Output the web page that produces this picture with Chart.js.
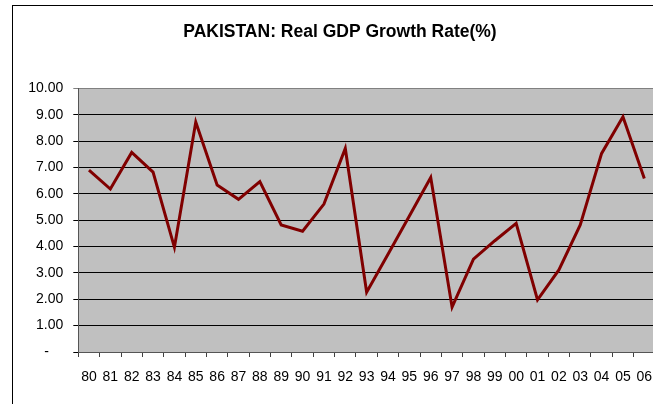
<!DOCTYPE html>
<html>
<head>
<meta charset="utf-8">
<script src="https://cdn.jsdelivr.net/npm/chart.js@4/dist/chart.umd.min.js"></script>
<style>
  html, body { margin: 0; padding: 0; background: #fff; overflow: hidden; width: 653px; height: 404px; }
  #frame { position: absolute; left: 12px; top: 5px; width: 700px; height: 430px; border: 1px solid #000; box-sizing: border-box; }
  #wrap { position: absolute; left: 25px; top: 0; width: 640px; height: 404px; }
</style>
</head>
<body>
<div id="frame"></div>
<div id="wrap"><canvas id="c" width="640" height="404"></canvas></div>
<script>
const TITLE = 'PAKISTAN: Real GDP Growth Rate(%)';
const years = ['80','81','82','83','84','85','86','87','88','89','90','91','92','93','94','95','96','97','98','99','00','01','02','03','04','05','06'];
const growth = [6.90, 6.18, 7.57, 6.82, 3.97, 8.72, 6.33, 5.79, 6.46, 4.82, 4.58, 5.61, 7.72, 2.27, 3.71, 5.16, 6.62, 1.70, 3.52, 4.22, 4.88, 1.98, 3.11, 4.82, 7.53, 8.92, 6.58];
const yTicks = [0, 1, 2, 3, 4, 5, 6, 7, 8, 9, 10];

const plotBg = {
  id: 'plotBg',
  beforeDraw(chart) {
    const a = chart.chartArea, ctx = chart.ctx;
    ctx.save();
    ctx.fillStyle = '#C0C0C0';
    ctx.fillRect(a.left, a.top, a.right - a.left, a.bottom - a.top);
    ctx.restore();
  }
};

new Chart(document.getElementById('c'), {
  type: 'line',
  data: {
    labels: years,
    datasets: [{
      data: growth,
      borderColor: '#800000',
      borderWidth: 3,
      pointRadius: 0,
      tension: 0,
      fill: false
    }]
  },
  options: {
    responsive: false,
    animation: false,
    events: [],
    layout: { padding: { left: 0, top: 0, bottom: 0, right: 10 } },
    plugins: {
      legend: { display: false },
      tooltip: { enabled: false },
      title: {
        display: true,
        text: TITLE,
        color: '#000',
        font: { family: "'Liberation Sans', Arial, sans-serif", size: 17.5, weight: 'bold', lineHeight: 1.2 },
        padding: { top: 22, bottom: 45.3 }
      }
    },
    scales: {
      x: {
        type: 'category',
        offset: true,
        grid: { display: true, offset: true, drawOnChartArea: false, drawTicks: true, tickLength: 5, color: '#404040' },
        border: { display: true, color: '#555', width: 1 },
        ticks: {
          color: '#000',
          autoSkip: false,
          maxRotation: 0,
          padding: 12,
          font: { family: "'Liberation Sans', Arial, sans-serif", size: 14 }
        },
        afterFit(s) { s.height = 404 - 352; }
      },
      y: {
        min: 0,
        max: 10,
        afterBuildTicks(s) { s.ticks = yTicks.map(v => ({ value: v })); },
        grid: {
          drawTicks: true,
          tickLength: 5,
          color: ctx => (ctx.tick && ctx.tick.value === 10) ? '#808080' : '#000',
          lineWidth: 1
        },
        border: { display: true, color: '#555', width: 1 },
        ticks: {
          color: '#000',
          padding: 10,
          font: { family: "'Liberation Sans', Arial, sans-serif", size: 14 },
          callback: v => v === 0 ? '-   \u2009' : Number(v).toFixed(2)
        },
        afterFit(s) { s.width = 53.3; }
      }
    }
  },
  plugins: [plotBg]
});
</script>
</body>
</html>
